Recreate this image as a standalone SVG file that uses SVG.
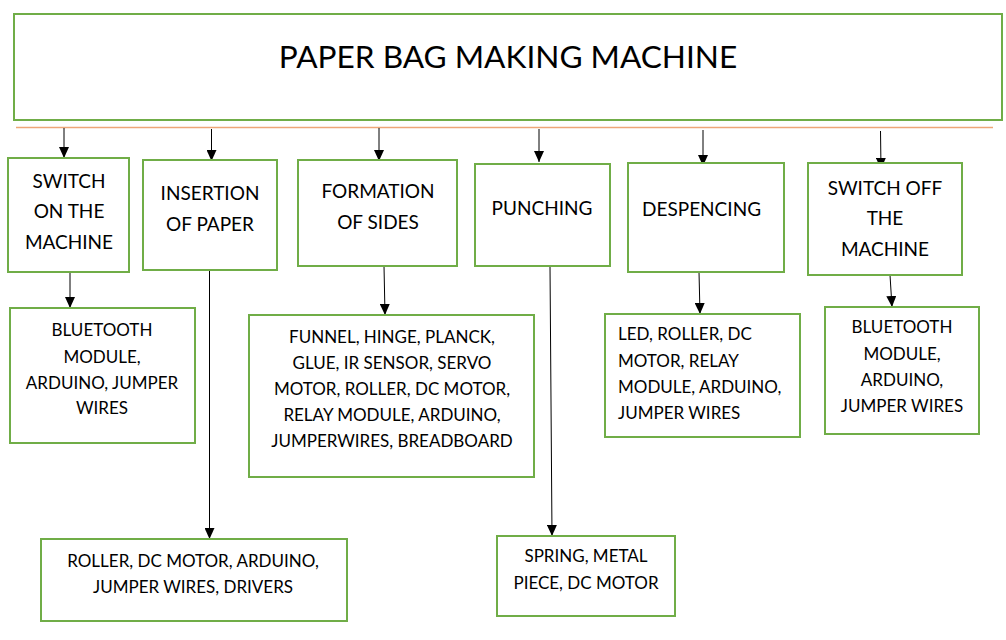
<svg xmlns="http://www.w3.org/2000/svg" width="1006" height="640" viewBox="0 0 1006 640">
<defs>
<marker id="ah" markerUnits="userSpaceOnUse" markerWidth="12" markerHeight="10" refX="11" refY="5" orient="auto" viewBox="0 0 12 10">
<path d="M0,0 L11,5 L0,10 Z" fill="#000"/>
</marker>
</defs>
<style>
.box{fill:#fff;stroke:#70AD47;stroke-width:2}
.t{font-family:Lato,"Open Sans","Liberation Sans",sans-serif;fill:#000;text-anchor:middle}
.s{font-size:19px}
.m{font-size:17px}
.l{text-anchor:start}
.c{stroke:#000;stroke-width:1;fill:none}
</style>
<rect width="1006" height="640" fill="#fff"/>
<g id="title">
<rect class="box" x="14" y="14" width="988" height="106"/>
<text class="t" x="508" y="68" font-size="31.6">PAPER BAG MAKING MACHINE</text>
</g>
<g id="connectors">
<line x1="16" y1="127.5" x2="993" y2="127.5" stroke="#EEA677" stroke-width="1.5"/>
<line class="c" x1="64" y1="128" x2="64" y2="158" marker-end="url(#ah)"/>
<line class="c" x1="211.5" y1="129" x2="211.5" y2="161" marker-end="url(#ah)"/>
<line class="c" x1="379" y1="128" x2="379" y2="161" marker-end="url(#ah)"/>
<line class="c" x1="539" y1="129" x2="539" y2="162" marker-end="url(#ah)"/>
<line class="c" x1="703" y1="130" x2="703" y2="166" marker-end="url(#ah)"/>
<line class="c" x1="880.5" y1="131" x2="881" y2="169" marker-end="url(#ah)"/>
<line class="c" x1="70" y1="272" x2="70" y2="308" marker-end="url(#ah)"/>
<line class="c" x1="209.5" y1="270" x2="209.5" y2="539" marker-end="url(#ah)"/>
<line class="c" x1="384" y1="266" x2="385" y2="315" marker-end="url(#ah)"/>
<line class="c" x1="550" y1="266" x2="552" y2="536" marker-end="url(#ah)"/>
<line class="c" x1="699" y1="272" x2="700" y2="314" marker-end="url(#ah)"/>
<line class="c" x1="890" y1="275" x2="892" y2="307" marker-end="url(#ah)"/>
</g>
<g id="n1">
<rect class="box" x="8" y="158" width="121" height="114"/>
<text class="t s" x="69"><tspan x="69" y="188">SWITCH</tspan><tspan x="69" y="218">ON THE</tspan><tspan x="69" y="249">MACHINE</tspan></text>
</g>
<g id="n2">
<rect class="box" x="143" y="160" width="134" height="110"/>
<text class="t s" x="210"><tspan x="210" y="200">INSERTION</tspan><tspan x="210" y="231">OF PAPER</tspan></text>
</g>
<g id="n3">
<rect class="box" x="298" y="160" width="159" height="106"/>
<text class="t s" x="378"><tspan x="378" y="198">FORMATION</tspan><tspan x="378" y="229">OF SIDES</tspan></text>
</g>
<g id="n4">
<rect class="box" x="475" y="164" width="135" height="102"/>
<text class="t s" x="542" y="215">PUNCHING</text>
</g>
<g id="n5">
<rect class="box" x="628" y="163" width="156" height="109"/>
<text class="t s l" x="642" y="216">DESPENCING</text>
</g>
<g id="n6">
<rect class="box" x="808" y="163" width="154" height="112"/>
<text class="t s" x="885"><tspan x="885" y="195">SWITCH OFF</tspan><tspan x="885" y="225">THE</tspan><tspan x="885" y="256">MACHINE</tspan></text>
</g>
<g id="n7">
<rect class="box" x="10" y="308" width="185" height="135"/>
<text class="t m" x="102"><tspan x="102" y="336">BLUETOOTH</tspan><tspan x="102" y="363">MODULE,</tspan><tspan x="102" y="389">ARDUINO, JUMPER</tspan><tspan x="102" y="414">WIRES</tspan></text>
</g>
<g id="n8">
<rect class="box" x="41" y="539" width="306" height="82"/>
<text class="t m" x="193"><tspan x="193" y="567">ROLLER, DC MOTOR, ARDUINO,</tspan><tspan x="193" y="593">JUMPER WIRES, DRIVERS</tspan></text>
</g>
<g id="n9">
<rect class="box" x="249" y="315" width="285" height="162"/>
<text class="t m" x="392"><tspan x="392" y="343">FUNNEL, HINGE, PLANCK,</tspan><tspan x="392" y="369">GLUE, IR SENSOR, SERVO</tspan><tspan x="392" y="395">MOTOR, ROLLER, DC MOTOR,</tspan><tspan x="392" y="421">RELAY MODULE, ARDUINO,</tspan><tspan x="392" y="447">JUMPERWIRES, BREADBOARD</tspan></text>
</g>
<g id="n10">
<rect class="box" x="497" y="536" width="178" height="80"/>
<text class="t m" x="586"><tspan x="586" y="562">SPRING, METAL</tspan><tspan x="586" y="589">PIECE, DC MOTOR</tspan></text>
</g>
<g id="n11">
<rect class="box" x="605" y="314" width="195" height="123"/>
<text class="t m l" x="618"><tspan x="618" y="340">LED, ROLLER, DC</tspan><tspan x="618" y="367">MOTOR, RELAY</tspan><tspan x="618" y="393">MODULE, ARDUINO,</tspan><tspan x="618" y="419">JUMPER WIRES</tspan></text>
</g>
<g id="n12">
<rect class="box" x="825" y="307" width="154" height="127"/>
<text class="t m" x="902"><tspan x="902" y="333">BLUETOOTH</tspan><tspan x="902" y="360">MODULE,</tspan><tspan x="902" y="386">ARDUINO,</tspan><tspan x="902" y="412">JUMPER WIRES</tspan></text>
</g>
</svg>
